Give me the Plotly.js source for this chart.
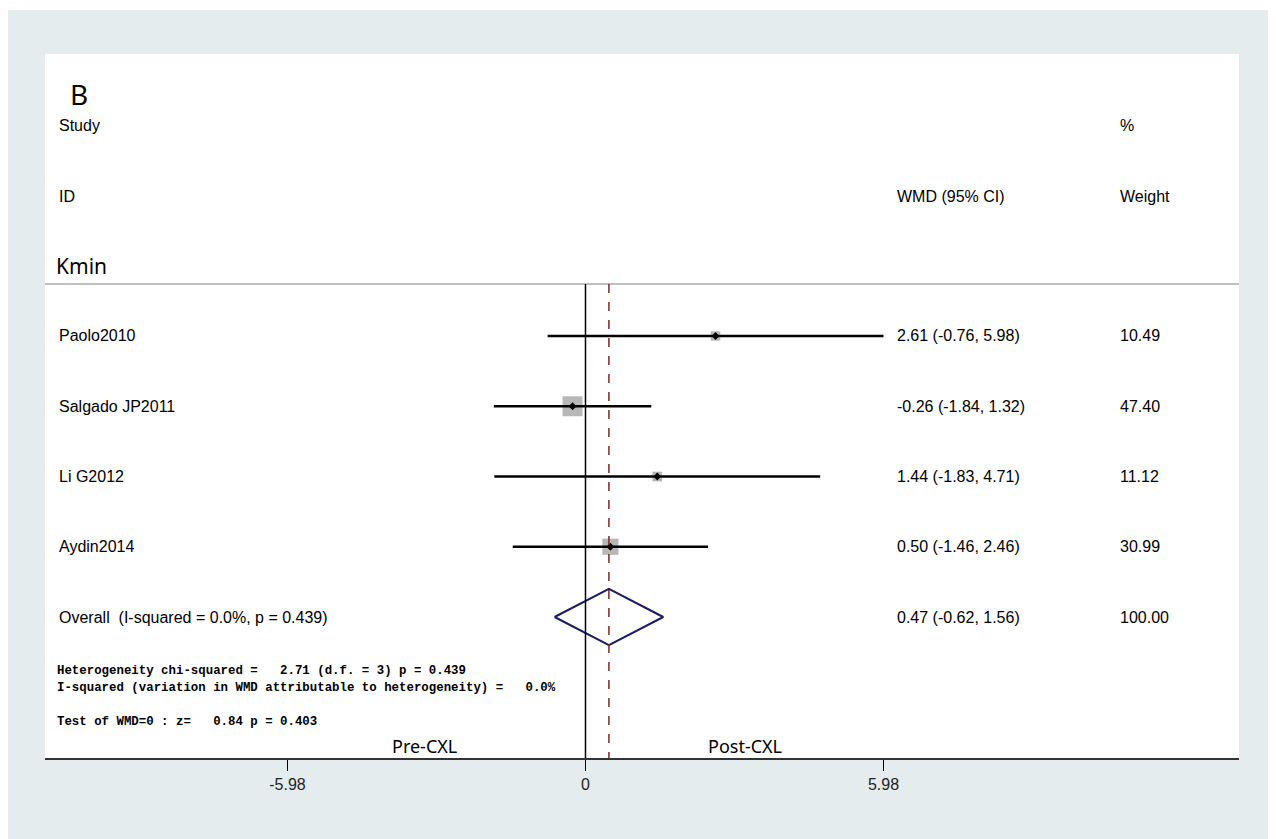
<!DOCTYPE html>
<html>
<head>
<meta charset="utf-8">
<script src="https://cdn.plot.ly/plotly-3.0.1.min.js"></script>
<style>
  html, body { margin: 0; padding: 0; background: #ffffff; width: 1276px; height: 839px; overflow: hidden; }
  #chart { position: absolute; left: 8px; top: 10px; width: 1260px; height: 829px; }
</style>
</head>
<body>
<div id="chart"></div>
<script>
// ---- data ----
const studies = ["Paolo2010", "Salgado JP2011", "Li G2012", "Aydin2014"];
const wmd     = [2.61, -0.26, 1.44, 0.50];
const ciLow   = [-0.76, -1.84, -1.83, -1.46];
const ciHigh  = [5.98, 1.32, 4.71, 2.46];
const weights = [10.49, 47.40, 11.12, 30.99];
const overallLabel = ["Overall  (I-squared = 0.0%, p = 0.439)"];
const overallWmd  = [0.47];
const overallLow  = [-0.62];
const overallHigh = [1.56];
const overallWeight = [100.00];
const tickVals = [-5.98, 0, 5.98];
const tickText = ["-5.98", "0", "5.98"];
const statLines = [
  "Heterogeneity chi-squared =   2.71 (d.f. = 3) p = 0.439",
  "I-squared (variation in WMD attributable to heterogeneity) =   0.0%",
  "Test of WMD=0 : z=   0.84 p = 0.403"
];
const sideLabels = ["Pre-CXL", "Post-CXL"];

// ---- layout helpers ----
const rows = studies.map((_, i) => i + 1);
const overallRow = studies.length + 1;
const px = p => (p - 45) / 1194; // paper x from panel pixel
const nb = s => s.replace(/ /g, "\u00a0");
const fmt = v => v.toFixed(2);

const ciX = [], ciY = [];
rows.forEach((r, i) => { ciX.push(ciLow[i], ciHigh[i], null); ciY.push(r, r, null); });

const traces = [
  { // weight boxes
    type: "scatter", mode: "markers", x: wmd, y: rows,
    marker: { symbol: "square", color: "#999999", size: weights.map(w => 2.9 * Math.sqrt(w)), line: { width: 0 } },
    hoverinfo: "skip"
  },
  { // confidence intervals
    type: "scatter", mode: "lines", x: ciX, y: ciY,
    line: { color: "#000000", width: 2.5 }, hoverinfo: "skip"
  },
  { // point estimates
    type: "scatter", mode: "markers", x: wmd, y: rows,
    marker: { symbol: "diamond", color: "#000000", size: 6 }, hoverinfo: "skip"
  },
  { // overall diamond
    type: "scatter", mode: "lines",
    x: [overallLow[0], overallWmd[0], overallHigh[0], overallWmd[0], overallLow[0]],
    y: [overallRow, overallRow - 0.4, overallRow, overallRow + 0.4, overallRow],
    line: { color: "#1b1b66", width: 2 }, hoverinfo: "skip"
  }
];

const ann = [];
const sans = "Liberation Sans, Arial, sans-serif";
function txt(x, y, t, size, family, opts) {
  ann.push(Object.assign({ xref: "paper", yref: "y", x: px(x), y: y, text: nb(t), showarrow: false,
    xanchor: "left", yanchor: "middle", font: { family: family || sans, size: size, color: "#000" } }, opts || {}));
}
const cL = 57, cM = 895, cR = 1118;
txt(68, -2.45, "B", 28, "Noto Sans, sans-serif");
txt(cL, -1.99, "Study", 16);
txt(cR, -1.99, "%", 16);
txt(cL, -0.99, "ID", 16);
txt(cM, -0.99, "WMD (95% CI)", 16);
txt(cR, -0.99, "Weight", 16);
txt(54, 0.0, "Kmin", 21, "Noto Sans, sans-serif");
rows.forEach((r, i) => {
  txt(cL, r, studies[i], 16);
  txt(cM, r, fmt(wmd[i]) + " (" + fmt(ciLow[i]) + ", " + fmt(ciHigh[i]) + ")", 16);
  txt(cR, r, fmt(weights[i]), 16);
});
txt(cL, overallRow, overallLabel[0], 16);
txt(cM, overallRow, fmt(overallWmd[0]) + " (" + fmt(overallLow[0]) + ", " + fmt(overallHigh[0]) + ")", 16);
txt(cR, overallRow, fmt(overallWeight[0]), 16);
const mono = "Liberation Mono, Courier New, monospace";
txt(55, 5.77, "<b>" + statLines[0] + "</b>", 12.4, mono);
txt(55, 6.01, "<b>" + statLines[1] + "</b>", 12.4, mono);
txt(55, 6.49, "<b>" + statLines[2] + "</b>", 12.4, mono);
txt(424, 6.84, sideLabels[0], 18, "Noto Sans, sans-serif", { xanchor: "center" });
txt(745, 6.84, sideLabels[1], 18, "Noto Sans, sans-serif", { xanchor: "center" });

const yTop = -3.014, yBot = 7.007, ySep = 0.26;
const shapes = [
  { type: "line", xref: "paper", yref: "y", x0: 0, x1: 1, y0: ySep, y1: ySep, line: { color: "#aaaaaa", width: 1.5 } },
  { type: "line", xref: "x", yref: "y", x0: 0, x1: 0, y0: ySep, y1: yBot, line: { color: "#000000", width: 1.5 } },
  { type: "line", xref: "x", yref: "y", x0: overallWmd[0], x1: overallWmd[0], y0: ySep, y1: yBot,
    line: { color: "#7a2a2a", width: 1.5, dash: "dash" } }
];

const layout = {
  width: 1260, height: 829,
  margin: { l: 37, r: 29, t: 44, b: 81, pad: 0 },
  paper_bgcolor: "#e4ecee",
  plot_bgcolor: "#ffffff",
  showlegend: false,
  xaxis: {
    range: [-10.847, 13.115], showgrid: false, zeroline: false,
    showline: true, linecolor: "#333333", linewidth: 2,
    tickmode: "array", tickvals: tickVals, ticktext: tickText,
    ticks: "outside", ticklen: 11, tickwidth: 1.5, tickcolor: "#000",
    ticklabelstandoff: 0,
    tickfont: { family: sans, size: 16, color: "#222" }
  },
  yaxis: {
    range: [yBot, yTop], showgrid: false, zeroline: false, showline: false,
    showticklabels: false, ticks: ""
  },
  shapes: shapes,
  annotations: ann
};

Plotly.newPlot("chart", traces, layout, { staticPlot: true, displayModeBar: false });
</script>
</body>
</html>
